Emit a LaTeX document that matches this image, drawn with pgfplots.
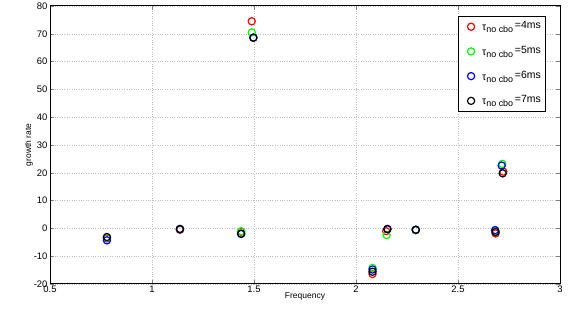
\documentclass[border=0pt]{standalone}
\usepackage{pgfplots}
\pgfplotsset{compat=1.18}
\usepackage{fontspec}
\setmainfont{Liberation Sans}
\newcommand{\tn}[1]{τ\raisebox{-2.2bp}{\fontsize{9}{10}\selectfont no cbo}\,\raisebox{2bp}{=#1ms}}
\begin{document}
\begin{tikzpicture}[x=1bp,y=1bp]
\begin{axis}[name=ax, at={(0,0)}, anchor=south west,
  scale only axis, width=510bp, height=278bp,
  xmin=0.5, xmax=3, ymin=-20, ymax=80,
  xtick={0.5,1,1.5,2,2.5,3}, ytick={-20,-10,0,10,20,30,40,50,60,70,80},
  xticklabels={0.5,1,1.5,2,2.5,3},
  /pgf/number format/assume math mode=true,
  tick align=inside, tick pos=both, major tick length=4bp,
  tick label style={font=\fontsize{9.5}{10}\selectfont},
  xticklabel style={yshift=2bp}, yticklabel style={xshift=1bp},
  grid=major, major grid style={dotted, gray!50, line width=0.55pt},
  axis line style={line width=1pt},
  xlabel={Frequency}, ylabel={growth rate},
  label style={font=\fontsize{8.5}{10}\selectfont},
  xlabel style={yshift=6bp}, ylabel style={yshift=-6bp},
  legend style={at={(0.973,0.964)}, anchor=north east, draw=black, line width=0.8pt,
    font=\fontsize{10.5}{12}\selectfont, row sep=10bp, inner sep=3bp, fill=white},
  legend cell align=left,
  legend image code/.code={\path (0bp,0bp) (18bp,0bp); \draw[#1] plot coordinates {(9.5bp,0bp)};},
  every axis plot/.append style={only marks, mark=o, mark size=3.6bp, line width=1.2pt},
]
\addplot[red] coordinates {(0.779,-3.6) (1.137,-0.5) (1.437,-1.2) (1.489,74.5) (2.081,-16.4) (2.148,-1.0) (2.293,-0.6) (2.684,-1.8) (2.722,20.4)};
\addplot[green] coordinates {(0.779,-3.3) (1.137,-0.3) (1.437,-1.0) (1.489,70.5) (2.081,-14.2) (2.150,-2.4) (2.293,-0.6) (2.684,-1.0) (2.717,23.2)};
\addplot[blue] coordinates {(0.779,-4.3) (1.137,-0.3) (1.437,-2.0) (1.497,68.6) (2.081,-14.8) (2.154,-0.3) (2.293,-0.5) (2.682,-0.6) (2.714,22.6)};
\addplot[black] coordinates {(0.779,-3.1) (1.137,-0.2) (1.437,-1.9) (1.497,68.6) (2.081,-15.6) (2.154,-0.2) (2.293,-0.5) (2.684,-1.3) (2.719,19.8)};
\legend{\tn{4}, \tn{5}, \tn{6}, \tn{7}}
\end{axis}
\pgfresetboundingbox
\path[use as bounding box] ([xshift=-50bp,yshift=-36bp]ax.south west) rectangle ([xshift=12bp,yshift=6bp]ax.north east);
\end{tikzpicture}
\end{document}
